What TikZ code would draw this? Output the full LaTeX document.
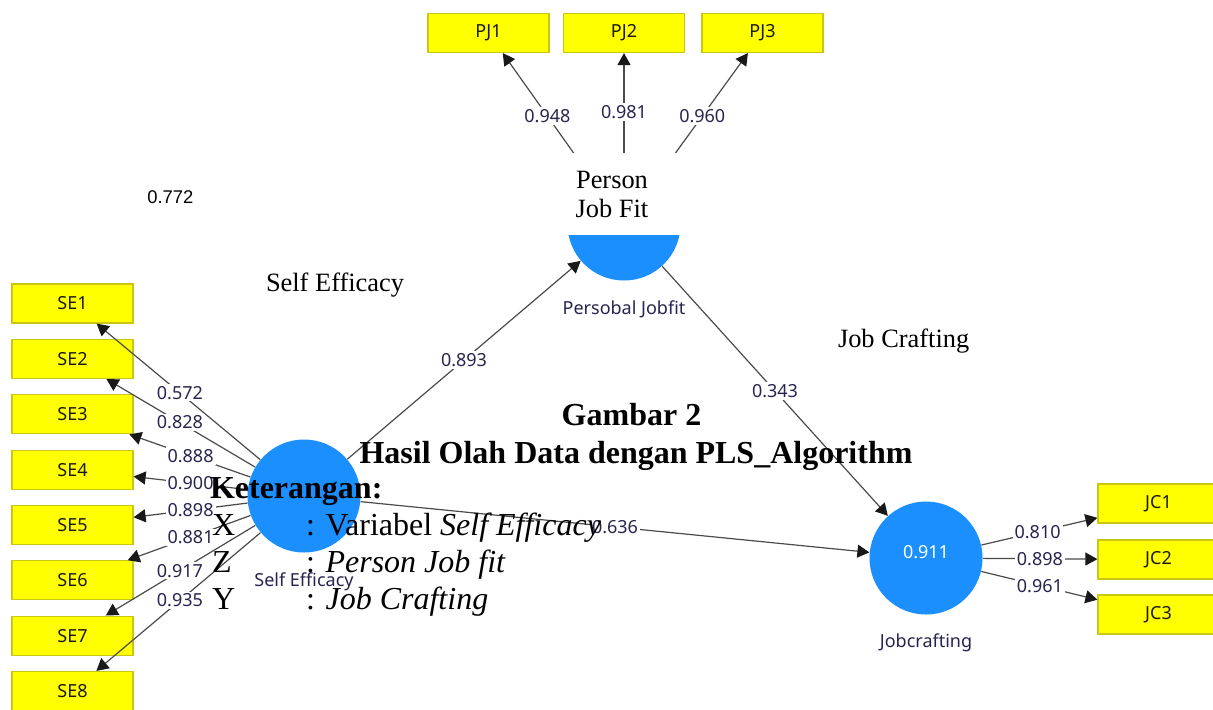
\documentclass[tikz,border=0pt]{standalone}
\usepackage{fontspec}
\setmainfont{Liberation Serif}
\newfontfamily\plsfont{Noto Sans}
\newfontfamily\arialfont{Liberation Sans}
\usetikzlibrary{arrows.meta,calc}
\definecolor{plsblue}{RGB}{28,143,255}
\definecolor{boxyellow}{RGB}{255,255,0}
\definecolor{boxedge}{RGB}{200,200,20}
\definecolor{lbltext}{RGB}{40,36,80}
\definecolor{linegray}{RGB}{75,75,75}
\begin{document}
\begin{tikzpicture}[x=0.5pt,y=-0.5pt,
 latent/.style={circle,fill=plsblue,draw=none,minimum size=56.5pt,inner sep=0pt},
 indicator/.style={rectangle,fill=boxyellow,draw=boxedge,line width=0.6pt,minimum width=60.5pt,minimum height=19.5pt,inner sep=0pt,font=\plsfont\fontsize{9}{10}\selectfont,text=black!90},
 conn/.style={draw=linegray,line width=0.6pt,-{Triangle[length=6pt,width=6.5pt,color=black!90]}},
 weight/.style={fill=white,inner sep=1pt,font=\plsfont\fontsize{9}{10}\selectfont,text=lbltext},
 lvname/.style={font=\plsfont\fontsize{9}{10}\selectfont,text=lbltext,inner sep=0pt},
 ovtext/.style={inner sep=0pt,outer sep=0pt,font=\fontsize{13.2}{15}\selectfont,anchor=base west},
 bigtext/.style={inner sep=0pt,outer sep=0pt,font=\fontsize{16}{18.5}\selectfont},
]
\useasboundingbox[fill=white] (0,0) rectangle (1213,709);

% latent variables
\node[latent] (pjf) at (624,224) {};
\node[latent] (se) at (304,496) {};
\node[latent] (jc) at (926,558) {};
\node[lvname,text=white] (jcval) at (926,552) {0.911};
\node[lvname] (pjfname) at (624,309) {Persobal Jobfit};
\node[lvname] (sename) at (304,582) {Self Efficacy};
\node[lvname] (jcname) at (926,643) {Jobcrafting};

% indicators
\node[indicator] (PJ1) at (488.5,33) {PJ1};
\node[indicator] (PJ2) at (624,33) {PJ2};
\node[indicator] (PJ3) at (762.5,33) {PJ3};
\foreach \i/\yy in {1/303.5,2/358.9,3/414.2,4/469.6,5/524.9,6/580.3,7/635.6,8/691.0}
  {\node[indicator] (SE\i) at (72.5,\yy) {SE\i};}
\node[indicator] (JC1) at (1158.5,503.5) {JC1};
\node[indicator] (JC2) at (1158.5,559.5) {JC2};
\node[indicator] (JC3) at (1158.5,614.5) {JC3};

% connectors
\draw[conn] (pjf) -- (PJ1);
\draw[conn] (pjf) -- (PJ2);
\draw[conn] (pjf) -- (PJ3);
\foreach \i in {1,...,8} {\draw[conn] (se) -- (SE\i);}
\foreach \i in {1,2,3} {\draw[conn] (jc) -- (JC\i);}
\draw[conn] (se) -- (pjf);
\draw[conn] (pjf) -- (jc);
\draw[conn] (se) -- (jc);

% weights
\node[weight] (wpj1) at ($(pjf)!0.565!(PJ1)$) {0.948};
\node[weight] (wpj2) at ($(pjf)!0.586!(PJ2)$) {0.981};
\node[weight] (wpj3) at ($(pjf)!0.565!(PJ3)$) {0.960};
\foreach \i/\v/\t in {1/0.572/0.536,2/0.828/0.536,3/0.888/0.49,4/0.900/0.49,5/0.898/0.49,6/0.881/0.49,7/0.917/0.536,8/0.935/0.536}
  {\node[weight] (wse\i) at ($(se)!\t!(SE\i)$) {\v};}
\node[weight] (wjc1) at ($(jc)!0.48!(JC1)$) {0.810};
\node[weight] (wjc2) at ($(jc)!0.49!(JC2)$) {0.898};
\node[weight] (wjc3) at ($(jc)!0.49!(JC3)$) {0.961};
\node[weight] (p1) at ($(se)!0.5!(pjf)$) {0.893};
\node[weight] (p2) at ($(pjf)!0.5!(jc)$) {0.343};
\node[weight] (p3) at ($(se)!0.5!(jc)$) {0.636};

% overlaid document text
\node[fill=white,inner sep=0pt,minimum width=70pt,minimum height=41pt] (pjfcover) at (625,194) {};
\node[ovtext,anchor=base] (pjt1) at (612,188) {Person};
\node[ovtext,anchor=base] (pjt2) at (612,217) {Job Fit};
\node[inner sep=0pt,anchor=base west,font=\arialfont\fontsize{9.2}{11}\selectfont] (rsq) at (147,203) {0.772};
\node[ovtext] (seov) at (266,291) {Self Efficacy};
\node[ovtext] (jcov) at (838,347) {Job Crafting};
\node[bigtext,anchor=base] (title1) at (631.5,425) {\bfseries Gambar 2};
\node[bigtext,anchor=base] (title2) at (636,463) {\bfseries Hasil Olah Data dengan PLS\_Algorithm};
\node[bigtext,anchor=base west] (ket) at (210,498) {\bfseries Keterangan:};
\node[bigtext,anchor=base west] (kx) at (212,535) {X};
\node[bigtext,anchor=base west] (kxd) at (306,535) {: Variabel \textit{Self Efficacy}};
\node[bigtext,anchor=base west] (kz) at (212,572) {Z};
\node[bigtext,anchor=base west] (kzd) at (306,572) {: \textit{Person Job fit}};
\node[bigtext,anchor=base west] (ky) at (212,609) {Y};
\node[bigtext,anchor=base west] (kyd) at (306,609) {: \textit{Job Crafting}};
\end{tikzpicture}
\end{document}
